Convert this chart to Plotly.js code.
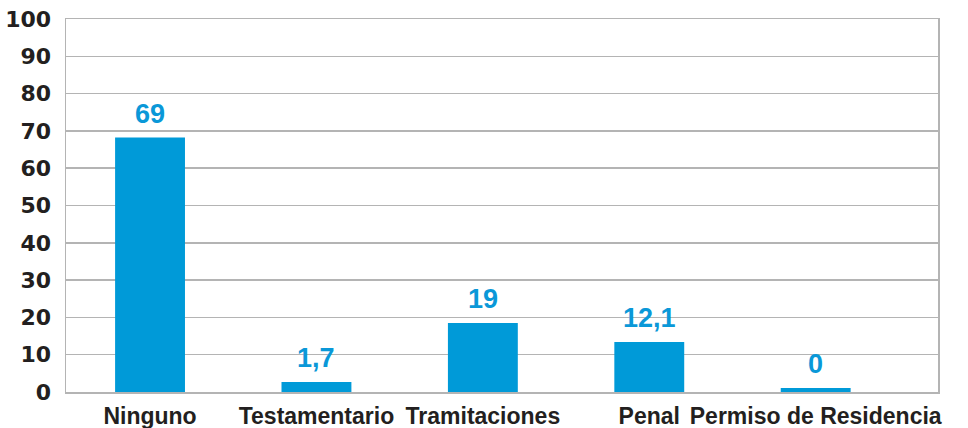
<!DOCTYPE html>
<html>
<head>
<meta charset="utf-8">
<script src="https://cdn.plot.ly/plotly-3.0.1.min.js"></script>
<style>html,body{margin:0;padding:0;background:#fff;}#chart{width:968px;height:428px;}</style>
</head>
<body>
<div id="chart"></div>
<script>
var categories = ["Ninguno", "Testamentario", "Tramitaciones", "Penal", "Permiso de Residencia"];
var values = [68.2, 2.7, 18.5, 13.4, 1.1];
var valueLabels = ["69", "1,7", "19", "12,1", "0"];
var yTicks = [0, 10, 20, 30, 40, 50, 60, 70, 80, 90, 100];

var blue = "#009ad8";
var grid = "#b4b4b4";

var trace = {
  type: "bar",
  x: categories,
  y: values,
  marker: {color: blue, line: {width: 0}},
  hoverinfo: "skip"
};

var annotations = categories.map(function (c, i) {
  return {
    x: c, y: values[i], xref: "x", yref: "y",
    text: valueLabels[i], showarrow: false,
    yanchor: "bottom", yshift: 7,
    font: {family: "Liberation Sans, Arial, sans-serif", size: 27, color: "#0a98d8", weight: "bold"}
  };
});

var layout = {
  width: 968, height: 428,
  margin: {l: 66, r: 30, t: 19, b: 36, pad: 0},
  paper_bgcolor: "#ffffff", plot_bgcolor: "#ffffff",
  showlegend: false,
  bargap: 0.58,
  xaxis: {
    type: "category",
    range: [-0.505, 4.735],
    showgrid: false,
    showline: true, linecolor: grid, linewidth: 1.5, mirror: true,
    ticks: "",
    tickangle: 0,
    automargin: false,
    ticklabelstandoff: 3,
    tickfont: {family: "Liberation Sans, Arial, sans-serif", size: 23, color: "#231f20", weight: "bold"},
    fixedrange: true
  },
  yaxis: {
    range: [0, 100],
    tickvals: yTicks,
    ticktext: yTicks.map(String),
    showgrid: true, gridcolor: grid, gridwidth: 1.5,
    showline: true, linecolor: grid, linewidth: 1.5, mirror: true,
    zeroline: false,
    ticks: "",
    ticklabelstandoff: 9,
    tickfont: {family: "DejaVu Sans, Verdana, sans-serif", size: 22, color: "#231f20", weight: "bold"},
    fixedrange: true
  },
  annotations: annotations
};

Plotly.newPlot("chart", [trace], layout, {displayModeBar: false, staticPlot: true});
</script>
</body>
</html>
